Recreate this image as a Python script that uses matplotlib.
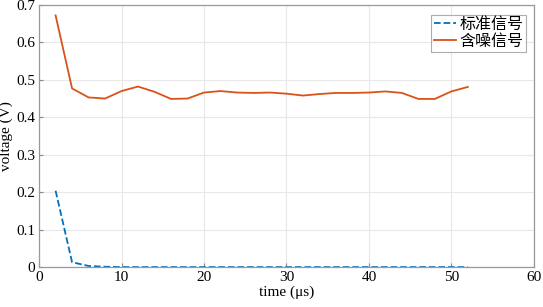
import matplotlib
matplotlib.use("Agg")
import matplotlib.pyplot as plt

# time axis (us)
t = [2, 4, 6, 8, 10, 12, 14, 16, 18, 20, 22, 24, 26, 28, 30,
     32, 34, 36, 38, 40, 42, 44, 46, 48, 50, 52]

standard = [0.204, 0.013, 0.003, 0.001, 0.0, 0.0, 0.0, 0.0, 0.0, 0.0, 0.0, 0.0, 0.0,
            0.0, 0.0, 0.0, 0.0, 0.0, 0.0, 0.0, 0.0, 0.0, 0.0, 0.0, 0.0, 0.0]
noisy = [0.672, 0.477, 0.453, 0.450, 0.470, 0.482, 0.468, 0.449, 0.450, 0.466,
         0.470, 0.466, 0.465, 0.466, 0.463, 0.458, 0.462, 0.465, 0.465, 0.466,
         0.469, 0.465, 0.449, 0.449, 0.469, 0.481]

labels = ["标准信号", "含噪信号"]

plt.rcParams["font.family"] = ["Liberation Serif", "Noto Sans CJK SC"]
plt.rcParams["font.size"] = 11

fig = plt.figure(figsize=(5.43, 3.07), dpi=100)
ax = fig.add_axes([0.072, 0.130, 0.911, 0.854])

ax.plot(t, standard, color="#0072BD", linestyle="--", linewidth=1.3, label=labels[0])
ax.plot(t, noisy, color="#D95319", linestyle="-", linewidth=1.3, label=labels[1])

ax.set_xlim(0, 60)
ax.set_ylim(0, 0.7)
ax.set_xticks([0, 10, 20, 30, 40, 50, 60])
ax.set_yticks([0, 0.1, 0.2, 0.3, 0.4, 0.5, 0.6, 0.7])
ax.set_yticklabels(["0", "0.1", "0.2", "0.3", "0.4", "0.5", "0.6", "0.7"])
ax.grid(True, color="#e8e8e8", linewidth=0.8)
ax.set_axisbelow(True)
ax.tick_params(direction="in", length=3, color="#888888", labelsize=11, pad=3)
for s in ax.spines.values():
    s.set_color("#999999")
    s.set_linewidth(0.9)

ax.set_xlabel("time (μs)", fontsize=11, labelpad=1)
ax.set_ylabel("voltage (V)", fontsize=11, labelpad=2)

leg = ax.legend(loc="upper right", bbox_to_anchor=(0.99, 0.975), fontsize=11.5,
                frameon=True, fancybox=False, handlelength=1.4, handletextpad=0.2,
                borderpad=0.15, labelspacing=0.05, borderaxespad=0.2)
leg.get_frame().set_edgecolor("#999999")
leg.get_frame().set_linewidth(0.8)

fig.savefig("out.png", dpi=100)
